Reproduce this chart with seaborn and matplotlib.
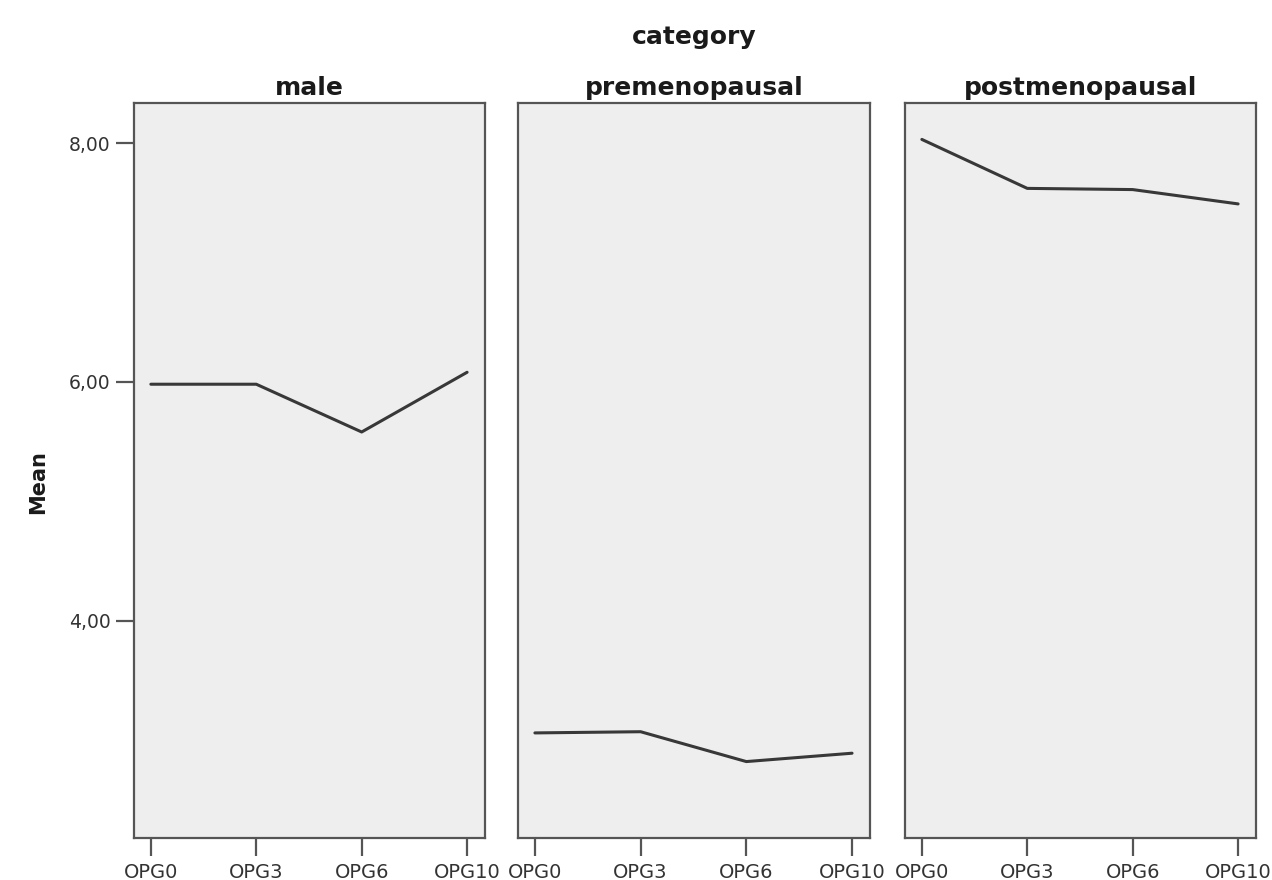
import pandas as pd
import matplotlib
matplotlib.use("Agg")
import matplotlib.pyplot as plt
import seaborn as sns

# Mean OPG per category
time_points = ["OPG0", "OPG3", "OPG6", "OPG10"]
categories = ["male", "premenopausal", "postmenopausal"]
male_means = [5.98, 5.98, 5.58, 6.08]
premeno_means = [3.06, 3.07, 2.82, 2.89]
postmeno_means = [8.03, 7.62, 7.61, 7.49]
y_ticks = [4.0, 6.0, 8.0]
y_tick_labels = ["4,00", "6,00", "8,00"]


def main():
    rows = []
    for cat, vals in zip(categories, [male_means, premeno_means, postmeno_means]):
        for tp, v in zip(time_points, vals):
            rows.append({"category": cat, "time": tp, "Mean": v})
    df = pd.DataFrame(rows)

    sns.set_theme(style="white")
    plt.rcParams["font.family"] = ["DejaVu Sans"]

    fig = plt.figure(figsize=(12.72, 8.8), dpi=100)
    panel_bg = "#efeeef"
    frame_col = "#555555"

    lefts = [134, 518, 905]
    widths = [351, 352, 351]
    top_px, bottom_px = 103, 838
    for i, cat in enumerate(categories):
        ax = fig.add_axes([lefts[i] / 1272, 1 - bottom_px / 880,
                           widths[i] / 1272, (bottom_px - top_px) / 880])
        sub = df[df["category"] == cat]
        sns.lineplot(data=sub, x="time", y="Mean", ax=ax, color="#383838",
                     linewidth=2.2, sort=False)
        ax.set_facecolor(panel_bg)
        ax.set_xlim(-0.16, 3.17)
        ax.set_ylim(2.18, 8.335)
        ax.set_xticks(range(len(time_points)))
        ax.set_xticklabels(time_points, fontsize=14, color="#333333")
        ax.set_xlabel("")
        ax.set_ylabel("")
        for sp in ax.spines.values():
            sp.set_color(frame_col)
            sp.set_linewidth(1.6)
        ax.tick_params(axis="x", length=13, width=1.6, color=frame_col,
                       direction="out", bottom=True, pad=5)
        if i == 0:
            ax.set_yticks(y_ticks)
            ax.set_yticklabels(y_tick_labels, fontsize=13.5, color="#333333")
            ax.tick_params(axis="y", length=13, width=1.6, color=frame_col,
                           direction="out", left=True, pad=4)
        else:
            ax.set_yticks([])
        ax.set_title(cat, fontsize=18, fontweight="bold", pad=6, color="#1a1a1a")

    fig.text(0.5457, 1 - 37 / 880, "category", ha="center", va="center",
             fontsize=18, fontweight="bold", color="#1a1a1a")
    fig.text(38 / 1272, 1 - 482 / 880, "Mean", ha="center", va="center",
             rotation=90, fontsize=15, fontweight="bold", color="#1a1a1a")

    fig.savefig("out.png", dpi=100, facecolor="white")


if __name__ == "__main__":
    main()
